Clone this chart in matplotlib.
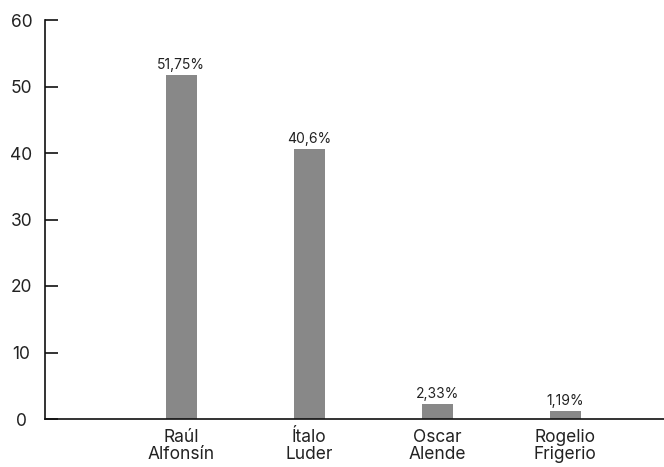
import matplotlib.pyplot as plt

plt.rcParams['font.family'] = ['Inter', 'DejaVu Sans']

candidates = ['Raúl\nAlfonsín', 'Ítalo\nLuder', 'Oscar\nAlende', 'Rogelio\nFrigerio']
votes = [51.75, 40.6, 2.33, 1.19]
vote_labels = ['51,75%', '40,6%', '2,33%', '1,19%']
y_ticks = [0, 10, 20, 30, 40, 50, 60]

text_color = '#222222'

fig = plt.figure(figsize=(6.64, 4.67), dpi=100)
ax = fig.add_axes([45 / 664, 48 / 467, 619 / 664, 399 / 467])

pos = [1, 2, 3, 4]
bars = ax.bar(pos, votes, width=0.242, color='#888888', zorder=2)
for b, lab in zip(bars, vote_labels):
    ax.annotate(lab, (b.get_x() + b.get_width() / 2, b.get_height()),
                xytext=(0, 2), textcoords='offset points',
                ha='center', va='bottom', fontsize=10, color=text_color)

ax.set_xlim(-0.0625, 4.773)
ax.set_ylim(0, 60)
ax.set_yticks(y_ticks)
ax.set_xticks(pos)
ax.set_xticklabels(candidates, fontsize=12.5, color=text_color, linespacing=1.05)

ax.spines['top'].set_visible(False)
ax.spines['right'].set_visible(False)
for s in ('left', 'bottom'):
    ax.spines[s].set_linewidth(1.2)
    ax.spines[s].set_color('#111111')

ax.tick_params(axis='x', length=0, pad=7)
ax.tick_params(axis='y', direction='in', length=9.5, width=1.2, color='#111111',
               labelsize=12.5, labelcolor=text_color, pad=17)
for t in ax.get_yticklabels():
    t.set_ha('center')

fig.savefig('out.png', dpi=100)
